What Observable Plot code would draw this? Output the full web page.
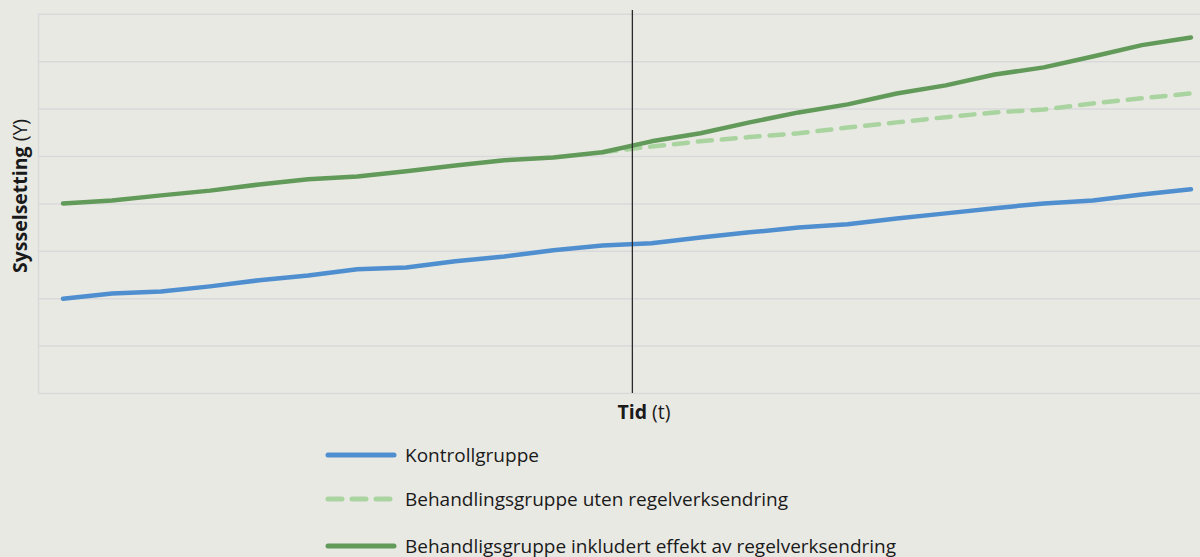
<!DOCTYPE html>
<html>
<head>
<meta charset="utf-8">
<script src="https://cdn.jsdelivr.net/npm/d3@7"></script>
<script src="https://cdn.jsdelivr.net/npm/@observablehq/plot@0.6"></script>
<style>
  html, body { margin: 0; padding: 0; background: #e9e9e4; width: 1200px; height: 557px; overflow: hidden; }
  body { font-family: "Open Sans", "Noto Sans", sans-serif; position: relative; }
  #legend { position: absolute; left: 0; top: 0; width: 1200px; }
  .row { position: absolute; left: 325px; height: 26px; display: flex; align-items: center; font-size: 19px; color: #1a1a1a; white-space: nowrap; }
  .row svg { margin-right: 8px; }
</style>
</head>
<body>
<div id="chart"></div>
<div id="legend"></div>
<script>
// Time periods (index) and series values
const periods = d3.range(24);
const kontroll = [2.00, 2.11, 2.15, 2.26, 2.39, 2.49, 2.62, 2.66, 2.79, 2.89, 3.02, 3.12,
                  3.17, 3.29, 3.40, 3.50, 3.57, 3.69, 3.80, 3.91, 4.01, 4.07, 4.20, 4.31];
const behandlingEffekt = [4.01, 4.07, 4.18, 4.28, 4.41, 4.52, 4.58, 4.69, 4.81, 4.92, 4.98, 5.09,
                          5.32, 5.49, 5.72, 5.93, 6.10, 6.33, 6.50, 6.73, 6.88, 7.11, 7.35, 7.51];
// counterfactual (from period 11 onwards)
const utenPeriods = d3.range(11, 24);
const behandlingUten = [5.09, 5.21, 5.32, 5.41, 5.49, 5.61, 5.72, 5.83, 5.93, 5.99, 6.12, 6.23, 6.33];
const reformTime = 11.61;
const yTicks = [0, 1, 2, 3, 4, 5, 6, 7, 8];

const seriesNames = ["Kontrollgruppe", "Behandlingsgruppe uten regelverksendring", "Behandligsgruppe inkludert effekt av regelverksendring"];
const colors = ["#4f8fcf", "#a9d49f", "#629a5a"];

const dataK = periods.map((t, i) => ({t, v: kontroll[i]}));
const dataE = periods.map((t, i) => ({t, v: behandlingEffekt[i]}));
const dataU = utenPeriods.map((t, i) => ({t, v: behandlingUten[i]}));

const plot = Plot.plot({
  width: 1200,
  height: 430,
  marginLeft: 38,
  marginRight: 0,
  marginTop: 10,
  marginBottom: 37,
  style: { background: "transparent", fontFamily: "Open Sans, sans-serif" },
  x: { domain: [-0.5, 23.195], axis: null },
  y: { domain: [0, 8.08], axis: null },
  marks: [
    Plot.ruleY(yTicks, { stroke: "#d9d9dc", strokeWidth: 1.5 }),
    Plot.ruleX([-0.5], { y1: 0, y2: 8, stroke: "#d9d9dc", strokeWidth: 1.5 }),
    Plot.line(dataU, { x: "t", y: "v", stroke: colors[1], strokeWidth: 4.5, strokeDasharray: "14,10", strokeLinecap: "round", strokeLinejoin: "round" }),
    Plot.line(dataK, { x: "t", y: "v", stroke: colors[0], strokeWidth: 4.5, strokeLinecap: "round", strokeLinejoin: "round" }),
    Plot.line(dataE, { x: "t", y: "v", stroke: colors[2], strokeWidth: 4.5, strokeLinecap: "round", strokeLinejoin: "round" }),
    Plot.ruleX([reformTime], { y1: 0, y2: 8.08, stroke: "#2a2a2a", strokeWidth: 1.3 })
  ]
});
document.getElementById("chart").appendChild(plot);

// Axis titles
const svg = d3.select(plot);
const yl = svg.append("text")
  .attr("transform", "translate(27,196) rotate(-90)")
  .attr("text-anchor", "middle")
  .attr("font-size", 19.5)
  .attr("fill", "#1a1a1a");
yl.append("tspan").attr("font-weight", "bold").text("Sysselsetting ");
yl.append("tspan").attr("font-weight", "normal").text("(Y)");
const xl = svg.append("text")
  .attr("x", 644).attr("y", 419)
  .attr("text-anchor", "middle")
  .attr("font-size", 19.5)
  .attr("fill", "#1a1a1a");
xl.append("tspan").attr("font-weight", "bold").text("Tid ");
xl.append("tspan").attr("font-weight", "normal").text("(t)");

// Legend
const legendTops = [442, 486, 533];
const dashes = [null, "14,10", null];
const leg = document.getElementById("legend");
seriesNames.forEach((name, i) => {
  const row = document.createElement("div");
  row.className = "row";
  row.style.top = legendTops[i] + "px";
  row.innerHTML = `<svg width="72" height="10"><line x1="3" x2="69" y1="5" y2="5" stroke="${colors[i]}" stroke-width="5" stroke-linecap="round" ${dashes[i] ? `stroke-dasharray="${dashes[i]}"` : ""}/></svg><span>${name}</span>`;
  leg.appendChild(row);
});
</script>
</body>
</html>
